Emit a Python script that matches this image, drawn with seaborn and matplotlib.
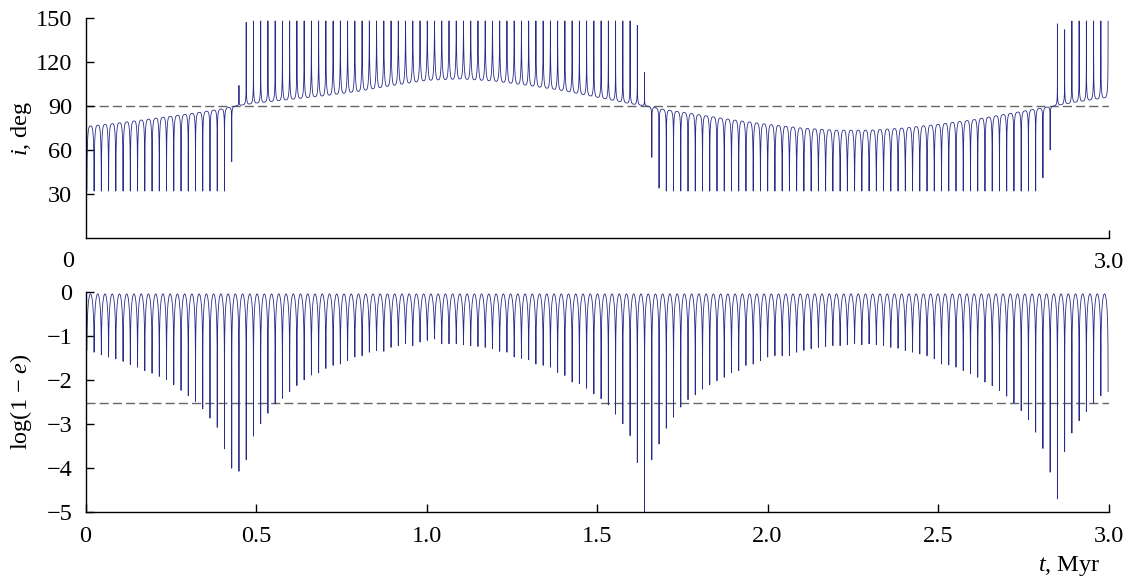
import numpy as np
import pandas as pd
import matplotlib
matplotlib.use("Agg")
import matplotlib.pyplot as plt
import seaborn as sns

# ---------------- data ----------------
# depth of log(1-e) at every eccentricity maximum (one value per cycle)
dip_depth = [
    -1.33, -1.37, -1.43, -1.48, -1.52, -1.58, -1.65, -1.71, -1.79, -1.85,
    -1.92, -1.99, -2.11, -2.24, -2.36, -2.49, -2.66, -2.87, -3.08, -3.57,
    -4.01, -4.08, -3.82, -3.28, -3.00, -2.76, -2.55, -2.42, -2.27, -2.13,
    -2.00, -1.89, -1.84, -1.74, -1.67, -1.64, -1.56, -1.48, -1.45, -1.37,
    -1.33, -1.35, -1.26, -1.22, -1.18, -1.22, -1.14, -1.10,
    -1.07, -1.18, -1.18, -1.18, -1.20, -1.22, -1.24, -1.26, -1.29, -1.35,
    -1.37, -1.48, -1.51, -1.54, -1.64, -1.67, -1.71, -1.83, -1.90, -2.05,
    -2.09, -2.19, -2.32, -2.43, -2.57, -2.78, -3.00, -3.27, -3.88, -5.30,
    -3.82, -3.46, -3.10, -2.85, -2.62, -2.45, -2.34, -2.21, -2.11, -2.02,
    -1.94, -1.83, -1.79, -1.67, -1.64, -1.56, -1.48, -1.45,
    -1.45, -1.45, -1.37, -1.33, -1.29, -1.26, -1.24, -1.22, -1.22, -1.20,
    -1.18, -1.20, -1.18, -1.20, -1.22, -1.26, -1.28, -1.33, -1.37, -1.41,
    -1.45, -1.52, -1.64, -1.66, -1.71, -1.79, -1.86, -1.94, -2.05, -2.13,
    -2.24, -2.37, -2.53, -2.70, -2.91, -3.19, -3.56, -4.10, -4.71, -3.63,
    -3.21, -2.93, -2.72, -2.53, -2.36, -2.27,
]
cycle_period = 0.02124      # Myr between eccentricity maxima
first_max = 0.004           # Myr
e_min_level = 0.905         # 1 - e at eccentricity minimum

# inclination between the flips (arc tops / bottoms)
i_base_t = [0.0, 0.1, 0.2, 0.3, 0.4, 0.44, 0.5, 0.6, 0.7, 0.8, 0.9, 1.0, 1.1,
            1.2, 1.3, 1.4, 1.5, 1.6, 1.645, 1.7, 1.8, 1.9, 2.0, 2.1, 2.2, 2.3,
            2.4, 2.5, 2.6, 2.7, 2.8, 2.84, 2.9, 3.0]
i_base_v = [76, 78.5, 81.5, 84.5, 88, 90, 92, 94.5, 97, 100, 104, 107.5, 108.5,
            107, 104, 100.5, 96, 91.5, 90, 87.5, 84, 80.5, 77.5, 75, 73.5, 73.5,
            75, 77.5, 80.5, 84.5, 88.5, 90, 92.5, 96]
i_low_spike = 32
i_high_spike = 148
# spikes near the flips that stop short (cycle index, value)
i_special_k = [20, 21, 22, 76, 77, 78, 79, 132, 133, 134, 135]
i_special_v = [52, 104, 147, 145, 113, 55, 34, 41, 60, 146, 142]

i_ref = 90
loge_ref = -2.53

x_ticks = [0, 0.5, 1.0, 1.5, 2.0, 2.5, 3.0]
x_tick_labels = ["0", "0.5", "1.0", "1.5", "2.0", "2.5", "3.0"]
i_ticks = [30, 60, 90, 120, 150]
e_ticks = [-5, -4, -3, -2, -1, 0]

# ---------------- build curves ----------------
depth = np.array(dip_depth)
n = len(depth)
dip_t = first_max + cycle_period * np.arange(n)
m = 10.0 ** depth
ytop = np.log10(e_min_level)

target = np.array([i_low_spike if np.interp(t, i_base_t, i_base_v) < i_ref
                   else i_high_spike for t in dip_t], dtype=float)
for k, v in zip(i_special_k, i_special_v):
    target[k] = v

s = np.linspace(0, 1, 90)
phi = 0.5 * (1 - np.cos(np.pi * s))
T, Y, I = [], [], []
for k in range(n - 1):
    ph = phi if k == n - 2 else phi[:-1]
    t = dip_t[k] + ph * (dip_t[k + 1] - dip_t[k])
    mm = m[k] * (1 - ph) + m[k + 1] * ph
    ome = mm + (e_min_level - mm) * np.abs(np.sin(np.pi * ph))
    y = np.log10(ome)
    b = np.interp(t, i_base_t, i_base_v)
    first = ph < 0.5
    d_near = np.where(first, depth[k], depth[k + 1])
    s_near = np.where(first, target[k], target[k + 1])
    w = np.clip((ytop - y) / (ytop - d_near), 0, 1) ** 1.5
    inc = b + (s_near - b) * w
    T.append(t); Y.append(y); I.append(inc)

df = pd.DataFrame({"t": np.concatenate(T), "loge": np.concatenate(Y),
                   "i": np.concatenate(I)})

# ---------------- plot ----------------
sns.set_style("ticks")
plt.rcParams.update({
    "font.family": ["Liberation Serif", "DejaVu Serif"],
    "mathtext.fontset": "custom",
    "mathtext.rm": "Liberation Serif",
    "mathtext.it": "Liberation Serif:italic",
    "axes.edgecolor": "black",
    "axes.linewidth": 1.0,
    "xtick.color": "black",
    "ytick.color": "black",
    "text.color": "black",
})

W, H = 1130, 577
fig = plt.figure(figsize=(W / 100, H / 100), dpi=100)
left = 85.5 / W
width = (1108.5 - 85.5) / W
ax1 = fig.add_axes([left, 1 - 238 / H, width, 220 / H])
ax2 = fig.add_axes([left, 1 - 511.7 / H, width, 219.7 / H])

line_col = "#2a2a8a"
fs = 17.5

sns.lineplot(data=df, x="t", y="i", ax=ax1, color=line_col, lw=0.6,
             estimator=None, sort=False)
sns.lineplot(data=df, x="t", y="loge", ax=ax2, color=line_col, lw=0.6,
             estimator=None, sort=False)

ax1.axhline(i_ref, color="#666666", lw=1.0, dashes=(6.5, 3), zorder=0.5)
ax2.axhline(loge_ref, color="#666666", lw=1.0, dashes=(6.5, 3), zorder=0.5)

for ax in (ax1, ax2):
    sns.despine(ax=ax)
    ax.set_xlim(0, 3.0)
    ax.set_xlabel("")
    ax.set_ylabel("")
    ax.tick_params(direction="in", length=6, width=1, labelsize=fs, pad=9.5)
    ax.tick_params(axis="x", pad=10)

ax1.set_ylim(0, 150)
ax1.set_yticks(i_ticks)
ax1.set_yticklabels([str(v) for v in i_ticks])
ax1.set_xticks([3.0])
ax1.set_xticklabels(["3.0"])

ax2.set_ylim(-5, 0)
ax2.set_yticks(e_ticks)
ax2.set_yticklabels(["\u2212" + str(-v) if v < 0 else "0" for v in e_ticks])
ax2.set_xticks(x_ticks)
ax2.set_xticklabels(x_tick_labels)

fig.text(68 / W, 1 - 261.5 / H, "0", ha="center", va="center", fontsize=fs)
fig.text(21 / W, 1 - 128.5 / H, "$i$, deg", ha="center", va="center",
         rotation=90, fontsize=fs)
fig.text(21.5 / W, 1 - 401.5 / H, "log(1 \u2212 $e$)", ha="center",
         va="center", rotation=90, fontsize=fs)
fig.text(1100 / W, 1 - 566 / H, "$t$, Myr", ha="right", va="center",
         fontsize=fs)

fig.savefig("out.png", dpi=100)
